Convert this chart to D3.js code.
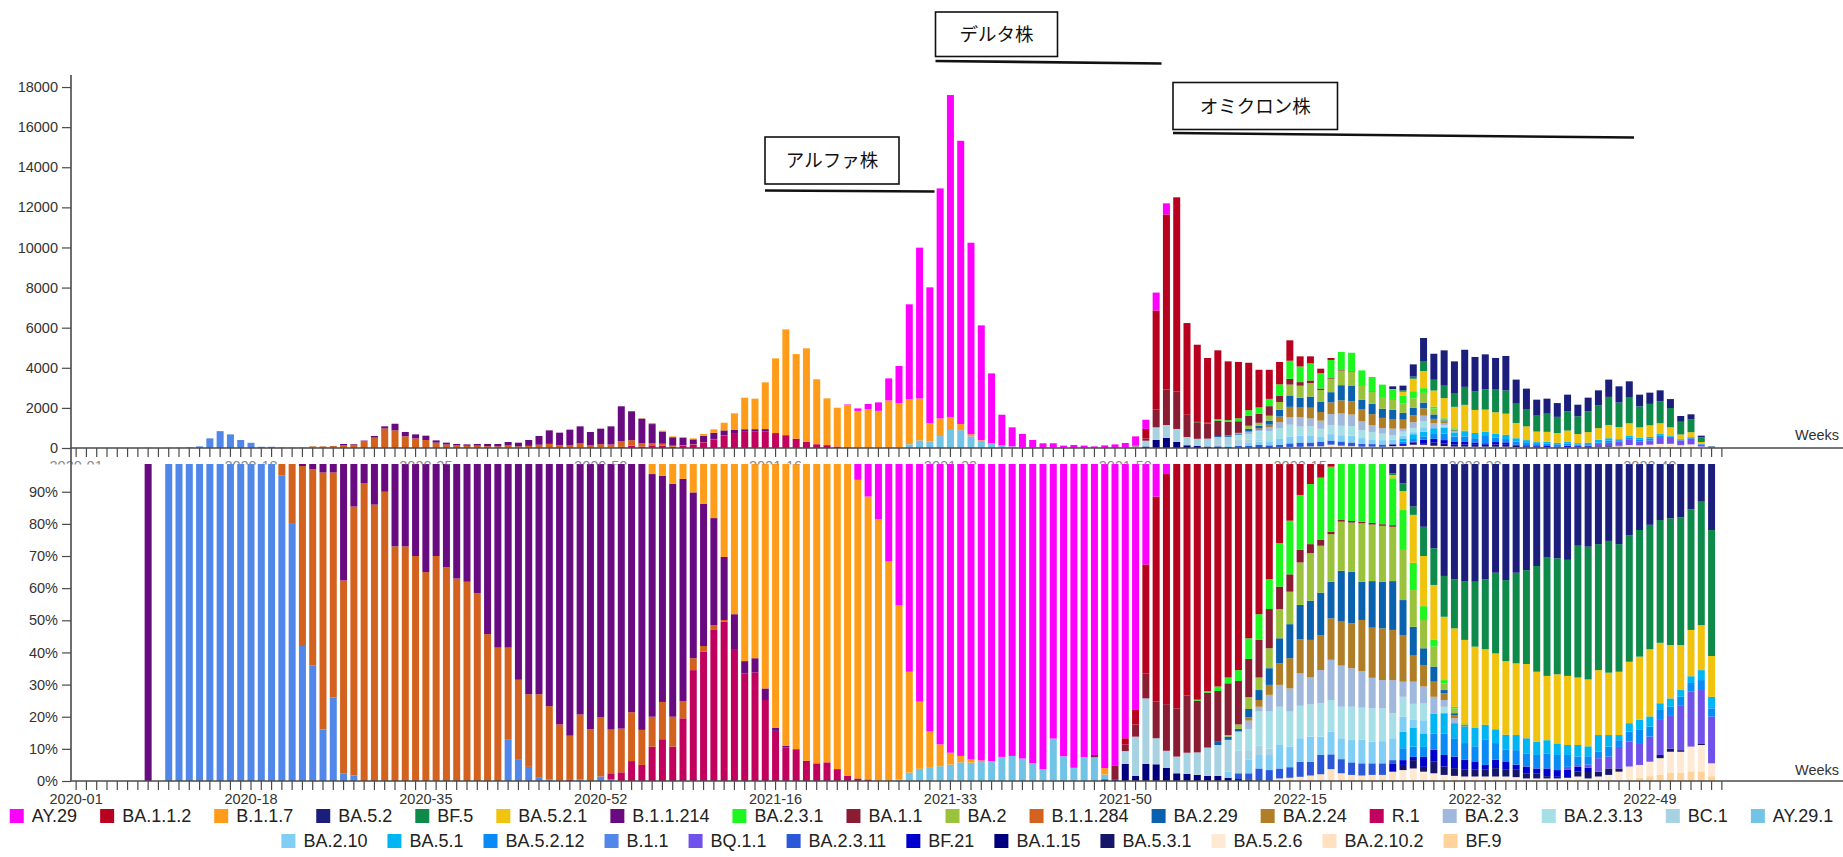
<!DOCTYPE html>
<html><head><meta charset="utf-8">
<script src="https://cdn.jsdelivr.net/npm/d3@7"></script>
<style>
html,body{margin:0;padding:0;background:#fff;}
svg{display:block;font-family:"Liberation Sans",Arial,sans-serif;}
</style></head>
<body>
<svg id="chart" width="1843" height="857"></svg>
<script>
// ---------- categories ----------
const yearWeeks = [[2020,53],[2021,52],[2022,52],[2023,4]];
const weeks = [];
yearWeeks.forEach(([y,n]) => { for (let w = 1; w <= n; w++) weeks.push(y + "-" + String(w).padStart(2,"0")); });
const tickLabels = ["2020-01","2020-18","2020-35","2020-52","2021-16","2021-33","2021-50","2022-15","2022-32","2022-49"];
const topTicks = [0,2000,4000,6000,8000,10000,12000,14000,16000,18000];
const pctTicks = [0,0.1,0.2,0.3,0.4,0.5,0.6,0.7,0.8,0.9];

// ---------- weekly totals (sequences) ----------
const totals = [0,0,0,0,0,0,0,5,0,10,15,30,80,480,840,680,400,260,60,60,20,20,20,
80,80,100,200,200,370,600,1080,1210,800,680,615,380,265,200,180,200,200,200,300,265,400,600,880,765,915,1080,800,965,1080,2080,1830,1480,1250,865,580,550,480,
700,930,1260,1730,2510,2460,3275,4470,5915,4685,4970,3425,2475,2010,2175,1975,2195,2275,3470,4090,7165,9990,8010,12945,17600,15320,10235,6115,3720,1660,1030,700,400,235,235,120,150,120,80,
130,180,250,580,1410,7750,12200,12500,6230,5150,4490,4870,4320,4290,4250,3900,3900,4290,5370,4570,4570,3955,4490,4790,4750,3870,3540,3160,3075,3110,4170,5485,4700,4870,4320,4900,4540,4670,4490,4590,3410,2960,2410,2460,2240,2660,2160,2510,2875,3410,3075,3325,2660,2760,2875,2440,1595,1680,615,80,0];

// ---------- lineages (legend order) ----------
const lineages = ["AY.29","BA.1.1.2","B.1.1.7","BA.5.2","BF.5","BA.5.2.1","B.1.1.214","BA.2.3.1","BA.1.1","BA.2","B.1.1.284","BA.2.29","BA.2.24","R.1","BA.2.3","BA.2.3.13","BC.1","AY.29.1","BA.2.10","BA.5.1","BA.5.2.12","B.1.1","BQ.1.1","BA.2.3.11","BF.21","BA.1.15","BA.5.3.1","BA.5.2.6","BA.2.10.2","BF.9"];
const colors = ["#ff00ff","#b8001f","#ff9d1a","#1b1f7b","#0e8a4a","#f0c30f","#680a80","#1ff51f","#8a1d34","#9bc23c","#d2621e","#0a62ae","#b07e26","#c2005e","#a0b8dc","#a6e0e6","#a6d2e2","#72c4e6","#80cdf5","#00b6f2","#0a8af5","#5087e8","#7052ea","#2b58d8","#0000cc","#00007f","#15156a","#ffe9d2","#ffe0c0","#ffd49c"];
// first week index of each lineage's share array
const starts = [75,102,55,128,128,128,7,109,99,112,20,111,114,48,114,113,102,80,112,129,129,9,145,113,128,100,129,129,117,152];

// ---------- weekly shares (%) per lineage ----------
const AY29 = [1,6.3,11.5,18.6,31.7,45.4,66,75.3,84.6,88.6,91.2,92.2,93.3,93.6,93.8,92.5,92.2,93,94.5,96.3,86.8,92.3,95.9,92.6,91.9,95.6,95.3,86.7,77.9,32.6,11.5,4.5];
const BA112 = [2,4.5,33.9,63.8,71.6,77.4,73.4,74.7,72,70.6,67.8,65.5,55.6,48.1,37.2,26,19,11,7.6,5.6,2.2];
const B117 = [1,4.5,5,7.5,6,10.2,13.8,18.2,30.3,48.1,62.7,61.8,71.2,83.4,89.1,90.1,93.7,94.5,94.2,96.3,97.4,92.9,88,81.4,68.3,54.1,31.4,20.9,11.3,6.8,3.7,2,1,0.5,0,0,0,0,0,0,0,0,0,0,0,2];
const BA52 = [4.3,7.4,14.6,20.9,27.6,36.2,37.3,37.8,38,37.3,35.2,37.5,35.2,34.4,33.1,30.5,30.7,31.2,26.8,27.1,26.3,25.3,26.3,23.5,21.9,20.3,18.8,18.3,18,15.5,13.1,21.9];
const BF5 = [0.5,2.4,2.6,9.1,11.4,12.7,15.2,18.3,20.2,21.7,25.1,25.2,28.2,29.2,32.9,36.8,36.1,36.1,41,41.3,39.2,41,39.7,39.4,39.4,38.7,38.2,39.4,39.7,37.5,38.4,39.2];
const BA521 = [1,5.9,14.9,15.6,17.1,19.7,24.4,25.9,25.3,23.5,23.6,22.9,22.3,23.1,21.8,20,21.5,21.5,21,20.8,20.2,19.4,19.7,19.1,19.6,20.9,18.8,16.6,14,14.4,14,12.7];
const B11214 = [100,0,0,0,0,0,0,0,0,0,0,0,0,0,0,2,3,4,4,37.6,14.6,7.4,14,10,27,27,30,35,30,33.5,37,38,41.6,54.3,58.5,58.5,68.5,73,73,76.7,82.4,85.9,79.3,83.9,80.1,84,83.7,78.6,83.1,75.5,70.4,72.5,69.1,51.6,44.2,33.3,19.6,11.1,3.8,4.4,3.6,1,0.5];
const BA231 = [0.3,0.5,1.4,1.8,3.4,6.4,8,9.3,13.5,16.7,17.1,18.7,19.4,20.2,18.8,19.1,19.3,19.7,20.1,14.6,12.4,8.5,4.3,2.1,1,0.5];
const BA11 = [0.7,0,4.2,2,3.8,7.8,11.4,14.5,15,17.8,16.1,17.1,15.8,16.1,13.5,11.9,11.7,12.2,7,5.4,3.9,2.8,1.8,0.8,0.5,0.5,0.5,0.5,0.5,0.5];
const BA2 = [0.5,1.4,3.7,3.9,6.2,9.1,10.1,13.2,14.8,14.6,14.8,15.3,15.3,18.2,17.6,17.4,16.9,15.6,11.4,8.8,6.2,2.1,1.5,0.5];
const B11284 = [5,20,56,61,80,70,60,83.7,92.6,86,90,73,73,70,65,70,66.5,63,62,58.4,45.7,41.5,28.5,24.7,22.6,26,22.8,17.6,13.6,20.2,16.1,18.5,13.6,13.6,15.2,10.9,9.3,11.6,9.3,5.4,3.7,1.7,1.5,0.5];
const BA229 = [1,1,0.8,2.6,3.1,5.2,7.8,10.6,10.7,12.2,13.2,11.4,15.8,16,11.9,14.5,14.5,15.2,10.9,8.8,5.2,4.7,1,0.6];
const BA224 = [1,2.1,3.1,6.7,9.4,10.6,11.7,10.9,12.9,13.7,14,15.9,15.6,16.1,15.6,14.5,8.3,6.7,4.7,2.1,1,0.5];
const R1 = [0.5,0,0,0,1.9,2.7,6.2,5,10.7,13,10.7,19.5,34.5,40.3,47,49.6,40.8,33.5,33.8,25.2,15.6,10.4,9.9,6.3,5.5,5.8,3.7,1.6,0.8,0.5];
const BA23 = [2.6,1.5,5.2,6.8,7.2,10.1,8.3,10.3,12.5,12.8,12,11.4,9.5,8.8,10.3,4.7,6.9,5.3,5.2,2.1,1.5];
const BA2313 = [6,6.6,10.5,11.5,11.9,10.9,10.1,10.1,10.4,9.8,9.8,10.3,10,10.4,10.2,7.8,6.2,5,5.2,0,2];
const BC1 = [4,12.2,20.4,8.1,5.3,5.2,6.6,7,8.8,9.6,9.9,7,3,3,2];
const AY291 = [0.5,2.6,3.8,4.1,4.6,5.1,5.8,5.7,5.9,6.2,7.5,7.8,7,5.5,3.7,13.2,7.7,4.1,7.4,7.4,1.5];
const BA210 = [1.9,0,4.2,4.2,4.7,7.3,6.4,7.3,7.8,5.7,7.1,6.5,7,7.3,6.7,6.9,6.8,4.7,2.5,4.1];
const BA51 = [5.1,5.8,4.2,6.2,6.3,4.7,5.2,5.7,4.7,4.3,4.7,4.7,4.7,4.1,4.1,3.6,3.1,3.6,3.1,5.2,3.6,1.6,2.6,3.2,3.2,2.1,2.6,2.1,2.1,3.1,3.6];
const BA5212 = [3.7,3.2,3.1,5.1,6.7,5.7,5.2,4.7,7.8,5.2,3.6,4.5,4.1,4.2,4.7,4.7,3.7,2.6,2.6,2,3.1,2.1,3.1,4.1,3.1,3.1,2.6,2.6,2.6,3.1,2.6];
const B11 = [100,100,100,100,100,100,100,100,100,100,100,95,80,42,36,16,26,2.4,1.7,0,0,0,0,0,0,0,0,0,0,0,0,0,0,13,6.8,4.4,1,0.5,0,0,0.5,0,1.4,0.5];
const BQ11 = [0.8,0.5,1,4.2,3.7,6.7,7.8,6.8,7.8,10.9,10.4,14,17.2,16.6,14.5];
const BA2311 = [1.8,1.9,3.9,3.4,3.1,3.3,4.7,4.3,6,4.6,4.4,3.9,3.8,3.6,3.6,1];
const BF21 = [2.6,1.5,1,3.1,3.7,3.6,3.6,3.1,2.6,1.5,2.6,2.6,1.6,2.1,1.5,2.4,2.1,2.6,1.6,1.3];
const BA115 = [0.5,0.5,5.3,1.6,5.3,5.2,4.1,2.4,2.2,1.9,1.6,1.6,1,0.6,0.5];
const BA531 = [1.6,2.6,1.5,3.6,2.6,2.4,2.1,2.1,2.1,2.6,2.1,2.3,1.6,1.6,0.7,0.5,0,1.5,2,1.5,2,1,0,0,0,1,1,0.5,0,0.5];
const BA526 = [3.4,3.9,2.9,2.4,1.9,1.6,1.4,1.4,1.4,1.4,1.4,1.2,0.8,0.8,0.8,0.8,1,1.4,0.8,1.4,1.9,2.9,4.5,4,4.5,5.1,6.6,6.6,7.7,8.2,4];
const BA2102 = [0.8,1,1.3,1.7,2.1,3.7,2.4,1.9,1.7,1.9,1.9,2.9];
const BF9 = [1,1.5,2,2.5,2.5,3,3,1.5];

const shareArrays = [AY29,BA112,B117,BA52,BF5,BA521,B11214,BA231,BA11,BA2,B11284,BA229,BA224,R1,BA23,BA2313,BC1,AY291,BA210,BA51,BA5212,B11,BQ11,BA2311,BF21,BA115,BA531,BA526,BA2102,BF9];

// ---------- build tables ----------
const shareRows = weeks.map((wk, i) => {
  const r = {week: wk};
  lineages.forEach((n, k) => { const j = i - starts[k]; const a = shareArrays[k]; r[n] = (j >= 0 && j < a.length) ? a[j] : 0; });
  return r;
});
const countRows = shareRows.map((r, i) => {
  const s = d3.sum(lineages, n => r[n]);
  const o = {week: r.week};
  lineages.forEach(n => { o[n] = s ? totals[i] * r[n] / s : 0; });
  return o;
});
const keys = lineages.slice().reverse();
const stackTop = d3.stack().keys(keys)(countRows);
const stackBot = d3.stack().keys(keys).offset(d3.stackOffsetExpand)(shareRows);
const color = d3.scaleOrdinal().domain(lineages).range(colors);

// ---------- scales ----------
const W = 1843;
const svg = d3.select("#chart");
const x = d3.scaleBand().domain(weeks).range([71, 1727]).paddingInner(0.32).paddingOuter(0.16);
const yTop = d3.scaleLinear().domain([0, 18600]).range([448, 75]);
const yBot = d3.scaleLinear().domain([0, 1]).range([781, 459.6]);

// ---------- bottom (percentage) bars ----------
svg.append("g").selectAll("g").data(stackBot).join("g")
  .attr("fill", d => color(d.key))
  .selectAll("rect").data(d => d.filter(p => p[1] - p[0] > 0)).join("rect")
  .attr("x", d => x(d.data.week)).attr("width", x.bandwidth())
  .attr("y", d => yBot(d[1])).attr("height", d => yBot(d[0]) - yBot(d[1]));

// white band under the top chart axis
svg.append("rect").attr("x", 72).attr("y", 448.5).attr("width", W - 72).attr("height", 15.5).attr("fill", "#fff");

// ---------- top (count) bars ----------
svg.append("g").selectAll("g").data(stackTop).join("g")
  .attr("fill", d => color(d.key))
  .selectAll("rect").data(d => d.filter(p => p[1] - p[0] > 0)).join("rect")
  .attr("x", d => x(d.data.week)).attr("width", x.bandwidth())
  .attr("y", d => yTop(d[1])).attr("height", d => yTop(d[0]) - yTop(d[1]));

// ---------- axes ----------
const axisColor = "#4a4a4a", textColor = "#333";
function styleAxis(g) {
  g.selectAll(".tick line").attr("stroke", axisColor).attr("stroke-width", 1.2);
  g.selectAll(".tick text").attr("fill", textColor).attr("font-size", "14.5px").attr("font-family", "Liberation Sans, Arial, sans-serif");
}
const xAxis = d3.axisBottom(x).tickSize(9).tickPadding(4).tickFormat(d => tickLabels.includes(d) ? d : "");

svg.append("clipPath").attr("id", "topAxisClip").append("rect").attr("x", 0).attr("y", -3).attr("width", W).attr("height", 19.5);
const gxTop = svg.append("g").attr("transform", "translate(0,448)").attr("clip-path", "url(#topAxisClip)").call(xAxis);
gxTop.select(".domain").remove(); styleAxis(gxTop);
gxTop.selectAll(".tick text").attr("fill", "#888");
svg.append("line").attr("x1", 71).attr("x2", W).attr("y1", 448).attr("y2", 448).attr("stroke", axisColor).attr("stroke-width", 1.6);

const gxBot = svg.append("g").attr("transform", "translate(0,781)").call(xAxis);
gxBot.select(".domain").remove(); styleAxis(gxBot);
svg.append("line").attr("x1", 71).attr("x2", W).attr("y1", 781).attr("y2", 781).attr("stroke", axisColor).attr("stroke-width", 1.6);

const gyTop = svg.append("g").attr("transform", "translate(71,0)")
  .call(d3.axisLeft(yTop).tickValues(topTicks).tickSize(9).tickPadding(4).tickFormat(d3.format("d")));
gyTop.select(".domain").remove(); styleAxis(gyTop);
const gyBot = svg.append("g").attr("transform", "translate(71,0)")
  .call(d3.axisLeft(yBot).tickValues(pctTicks).tickSize(9).tickPadding(4).tickFormat(d3.format(".0%")));
gyBot.select(".domain").remove(); styleAxis(gyBot);
svg.append("line").attr("x1", 71).attr("x2", 71).attr("y1", 75).attr("y2", 781).attr("stroke", axisColor).attr("stroke-width", 1.6);

svg.append("text").attr("x", 1795).attr("y", 440).text("Weeks").attr("font-size", "14.5px").attr("fill", textColor);
svg.append("text").attr("x", 1795).attr("y", 775).text("Weeks").attr("font-size", "14.5px").attr("fill", textColor);

// ---------- variant annotations ----------
const notes = [
  {label: "アルファ株", box: [765, 137, 134, 47], line: [765, 190.5, 934.5, 191.5]},
  {label: "デルタ株", box: [935.5, 12, 122, 44.5], line: [935.5, 61, 1161.5, 63.5]},
  {label: "オミクロン株", box: [1173, 82.5, 164.5, 47], line: [1173, 133, 1634, 137.5]}
];
notes.forEach(n => {
  const [bx, by, bw, bh] = n.box;
  svg.append("rect").attr("x", bx).attr("y", by).attr("width", bw).attr("height", bh)
    .attr("fill", "#fff").attr("stroke", "#111").attr("stroke-width", 1.6);
  svg.append("text").attr("x", bx + bw / 2).attr("y", by + bh / 2).attr("dy", "0.36em")
    .attr("text-anchor", "middle").attr("font-family", "'Noto Sans CJK JP', sans-serif")
    .attr("font-size", "18.5px").attr("fill", "#111").text(n.label);
  const [x1, y1, x2, y2] = n.line;
  svg.append("line").attr("x1", x1).attr("y1", y1).attr("x2", x2).attr("y2", y2)
    .attr("stroke", "#111").attr("stroke-width", 2.6);
});

// ---------- legend ----------
const legendRows = [lineages.slice(0, 18), lineages.slice(18)];
const legendY = [816, 841];
const legendGap = [23, 20];
const legendShift = [0, -30];
legendRows.forEach((row, ri) => {
  const g = svg.append("g");
  const items = row.map(n => {
    const t = g.append("text").text(n).attr("font-size", "18px").attr("fill", "#222");
    return {n, t, w: t.node().getComputedTextLength()};
  });
  const total = d3.sum(items, d => 22 + d.w) + legendGap[ri] * (items.length - 1);
  let cx = (W - total) / 2 + legendShift[ri];
  items.forEach(d => {
    g.append("rect").attr("x", cx).attr("y", legendY[ri] - 7).attr("width", 14).attr("height", 14).attr("fill", color(d.n));
    d.t.attr("x", cx + 22).attr("y", legendY[ri]).attr("dy", "0.35em");
    cx += 22 + d.w + legendGap[ri];
  });
});
</script>
</body></html>
